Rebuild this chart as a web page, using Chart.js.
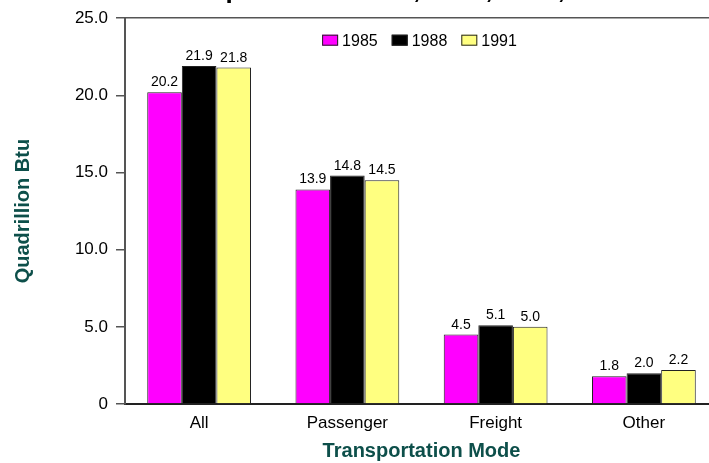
<!DOCTYPE html>
<html><head><meta charset="utf-8">
<script src="https://cdn.jsdelivr.net/npm/chart.js@4.4.1/dist/chart.umd.min.js"></script>
<style>html,body{margin:0;padding:0;overflow:hidden;background:#fff}#wrap{position:relative;width:718px;height:463px}</style>
</head><body><div id="wrap"><canvas id="c"></canvas></div>
<script>
const categories = ['All', 'Passenger', 'Freight', 'Other'];
const seriesNames = ['1985', '1988', '1991'];
const values1985 = [20.2, 13.9, 4.5, 1.8];
const values1988 = [21.9, 14.8, 5.1, 2.0];
const values1991 = [21.8, 14.5, 5.0, 2.2];
const yTickValues = [0, 5, 10, 15, 20, 25];
const yTickLabels = ['0', '5.0', '10.0', '15.0', '20.0', '25.0'];
const chartTitle = 'Transportation Mode, 1985, 1988, 1991';
const xTitle = 'Transportation Mode';
const yTitle = 'Quadrillion Btu';

const FONT = '"Liberation Sans", Arial, sans-serif';
const TEAL = '#0d4f4a';

const valueLabels = {
  id: 'valueLabels',
  afterDatasetsDraw(chart) {
    const ctx = chart.ctx;
    ctx.save();
    ctx.font = '14px ' + FONT;
    ctx.fillStyle = '#000';
    ctx.textAlign = 'center';
    ctx.textBaseline = 'alphabetic';
    chart.data.datasets.forEach((ds, i) => {
      const meta = chart.getDatasetMeta(i);
      meta.data.forEach((el, j) => {
        ctx.fillText(ds.data[j].toFixed(1), el.x, el.y - 6);
      });
    });
    ctx.restore();
  }
};

// legend drawn inside the plot area, centred near the top
const innerLegend = {
  id: 'innerLegend',
  afterDraw(chart) {
    const ctx = chart.ctx;
    const area = chart.chartArea;
    const boxW = 16, boxH = 11, gap = 4, spacing = 14;
    ctx.save();
    ctx.font = '16px ' + FONT;
    const items = chart.data.datasets.map(ds => ({ ds, w: boxW + gap + ctx.measureText(ds.label).width }));
    const total = items.reduce((s, it) => s + it.w, 0) + spacing * (items.length - 1);
    let x = (area.left + area.right) / 2 - total / 2 - 2;
    const cy = area.top + 22;
    items.forEach(it => {
      ctx.fillStyle = it.ds.backgroundColor;
      ctx.fillRect(x, cy - boxH / 2, boxW, boxH);
      ctx.strokeStyle = '#222';
      ctx.lineWidth = 1;
      ctx.strokeRect(x + 0.5, cy - boxH / 2 + 0.5, boxW - 1, boxH - 1);
      ctx.fillStyle = '#000';
      ctx.textAlign = 'left';
      ctx.textBaseline = 'middle';
      ctx.fillText(it.ds.label, x + boxW + gap, cy + 1);
      x += it.w + spacing;
    });
    ctx.restore();
  }
};

const topTitle = {
  id: 'topTitle',
  afterDraw(chart) {
    const ctx = chart.ctx;
    ctx.save();
    ctx.font = 'bold 26px ' + FONT;
    ctx.fillStyle = '#000';
    ctx.textAlign = 'center';
    ctx.textBaseline = 'alphabetic';
    ctx.fillText(chartTitle, 393, -2);
    ctx.restore();
  }
};

new Chart(document.getElementById('c'), {
  type: 'bar',
  data: {
    labels: categories,
    datasets: [
      { label: seriesNames[0], data: values1985, backgroundColor: '#ff00ff', borderColor: '#222', borderWidth: 1 },
      { label: seriesNames[1], data: values1988, backgroundColor: '#000000', borderColor: '#222', borderWidth: 1 },
      { label: seriesNames[2], data: values1991, backgroundColor: '#ffff80', borderColor: '#222', borderWidth: 1 }
    ]
  },
  options: {
    responsive: true,
    maintainAspectRatio: false,
    devicePixelRatio: 1,
    animation: false,
    layout: { padding: { top: 16, right: 0, left: 0, bottom: 0 } },
    datasets: { bar: { categoryPercentage: 0.7, barPercentage: 1.0 } },
    plugins: {
      tooltip: { enabled: false },
      title: { display: false },
      legend: { display: false }
    },
    scales: {
      x: {
        grid: { display: false },
        border: { display: true, color: '#222', width: 2 },
        ticks: { color: '#000', font: { family: FONT, size: 17 }, padding: 1 },
        title: { display: true, text: xTitle, color: TEAL, font: { family: FONT, size: 20, weight: 'bold' }, padding: { top: 7, bottom: 0 } },
        afterFit(scale) { scale.height = 59; }
      },
      y: {
        min: 0, max: 25,
        afterBuildTicks(scale) { scale.ticks = yTickValues.map(v => ({ value: v })); },
        grid: {
          drawOnChartArea: true,
          drawTicks: true,
          tickLength: 9,
          tickColor: '#555',
          lineWidth: 1.5,
          color: (c) => (c.tick && c.tick.value === 25) ? '#555' : 'rgba(0,0,0,0)'
        },
        border: { display: true, color: '#555', width: 2 },
        ticks: {
          color: '#000',
          font: { family: FONT, size: 17 },
          padding: 8,
          callback: (v) => yTickLabels[yTickValues.indexOf(v)]
        },
        title: { display: true, text: yTitle, color: TEAL, font: { family: FONT, size: 20, weight: 'bold' }, padding: { top: 11, bottom: 0 } },
        afterFit(scale) { scale.width = 125; }
      }
    }
  },
  plugins: [valueLabels, innerLegend, topTitle]
});
</script></body></html>
